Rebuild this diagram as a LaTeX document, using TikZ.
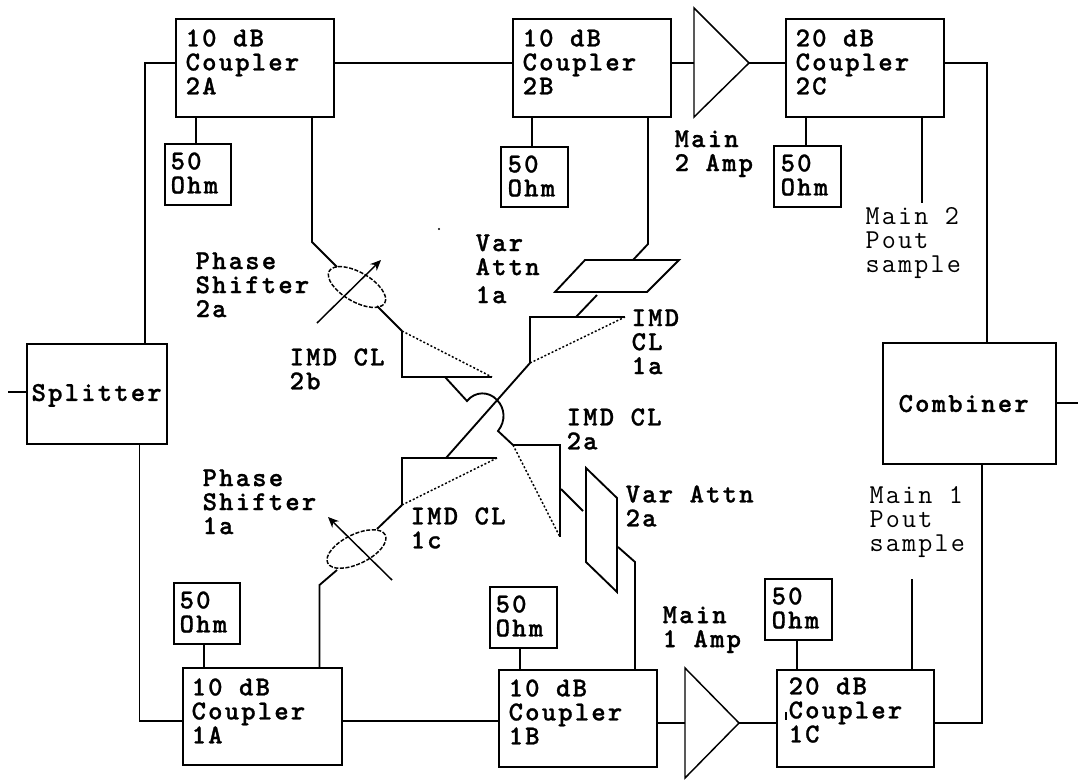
\documentclass[tikz,border=0pt]{standalone}
\usepackage{fontspec}
\usetikzlibrary{arrows.meta,calc,shapes.geometric}
\setmainfont{Latin Modern Mono}[LetterSpace=8]
\newfontfamily\heavyfont{lmmonolt10-bold.otf}[LetterSpace=8,FakeBold=1]
\tikzset{
  blk/.style 2 args={draw=black,line width=1.4pt,fill=white,rectangle,inner sep=0pt,outer sep=0pt,minimum width=#1*0.75pt,minimum height=#2*0.75pt},
  wire/.style={draw=black,line width=1.4pt,line join=miter},
  thin wire/.style={draw=black,line width=1.1pt},
  dots/.style={draw=black,line width=1.1pt,dash pattern=on 1.5pt off 1.5pt},
  lbl/.style={anchor=north west,inner sep=0pt,outer sep=0pt,align=left,xshift=-1pt,yshift=-0.3pt,font=\fontsize{20.5}{18}\selectfont\heavyfont},
  plain lbl/.style={anchor=north west,inner sep=0pt,outer sep=0pt,align=left,xshift=-1pt,yshift=-0.3pt,font=\fontsize{20.5}{18}\selectfont},
  shifter/.style={ellipse,draw=black,line width=1.1pt,dash pattern=on 3pt off 1.2pt,inner sep=0pt,outer sep=0pt,minimum width=48pt,minimum height=22pt}
}
\begin{document}
\begin{tikzpicture}[x=0.75pt,y=-0.75pt]
\useasboundingbox (0,0) rectangle (1078,783);
% boxes
\node[blk={158}{98}] (c2a) at (255,68) {};
\node[blk={158}{98}] (c2b) at (592,68) {};
\node[blk={158}{98}] (c2c) at (865,68) {};
\node[blk={159}{97}] (c1a) at (262.5,716.5) {};
\node[blk={158}{97}] (c1b) at (578,718.5) {};
\node[blk={157}{97}] (c1c) at (855.5,718.5) {};
\node[blk={66}{61}] (o2a) at (198,174.5) {};
\node[blk={67}{60}] (o2b) at (534.5,177) {};
\node[blk={67}{61}] (o2c) at (807.5,176.5) {};
\node[blk={66}{61}] (o1a) at (207,613.5) {};
\node[blk={67}{61}] (o1b) at (523.5,617.5) {};
\node[blk={67}{61}] (o1c) at (798.5,609.5) {};
\node[blk={140}{100}] (split) at (97,394) {};
\node[blk={173}{121}] (comb) at (969.5,403.5) {};
% labels in boxes
\node[lbl] (t2a) at (187,29) {10 dB\\Coupler\\2A};
\node[lbl] (t2b) at (524,29) {10 dB\\Coupler\\2B};
\node[lbl] (t2c) at (797,29) {20 dB\\Coupler\\2C};
\node[lbl] (t1a) at (193,678) {10 dB\\Coupler\\1A};
\node[lbl] (t1b) at (510,679) {10 dB\\Coupler\\1B};
\node[lbl] (t1c) at (790,677) {20 dB\\Coupler\\1C};
\node[lbl] (n2a) at (172,152) {50\\Ohm};
\node[lbl] (n2b) at (509,155) {50\\Ohm};
\node[lbl] (n2c) at (782,154) {50\\Ohm};
\node[lbl] (n1a) at (181,591) {50\\Ohm};
\node[lbl] (n1b) at (497,595) {50\\Ohm};
\node[lbl] (n1c) at (773,587) {50\\Ohm};
\node[lbl,anchor=base] (tsp) at (98,400.5) {Splitter};
\node[lbl,anchor=base] (tco) at (965,411.5) {Combiner};
% free labels
\node[lbl] (ma2) at (676,130) {Main\\2 Amp};
\node[lbl] (ma1) at (664,606) {Main\\1 Amp};
\node[plain lbl] (ps2) at (867,207) {Main 2\\Pout\\sample};
\node[plain lbl] (ps1) at (871,486) {Main 1\\Pout\\sample};
\node[lbl] (va1) at (477,234) {Var\\Attn\\[3pt]1a};
\node[lbl] (va2) at (627,485) {Var Attn\\2a};
\node[lbl] (im1a) at (633,309) {IMD\\CL\\1a};
\node[lbl] (im2a) at (568,408) {IMD CL\\2a};
\node[lbl] (im1c) at (412,507) {IMD CL\\1c};
\node[lbl] (im2b) at (291,348) {IMD CL\\2b};
\node[lbl] (ph2) at (197,252) {Phase\\Shifter\\2a};
\node[lbl] (ph1) at (204,469) {Phase\\Shifter\\1a};
% routing coordinates
\coordinate (row2) at (0,63);
\coordinate (row1) at (0,722);
\coordinate (s2a) at (196,0);
\coordinate (s2b) at (532,0);
\coordinate (s2c) at (806,0);
\coordinate (s1a) at (204,0);
\coordinate (s1b) at (520,0);
\coordinate (s1c) at (797,0);
% amplifiers
\coordinate (a2u) at (694,8); \coordinate (a2d) at (694,117); \coordinate (a2t) at (749,63);
\coordinate (a1u) at (685,668); \coordinate (a1d) at (685,778); \coordinate (a1t) at (739,723);
\draw[thin wire] (a2u) -- (a2t) -- (a2d) -- cycle;
\draw[thin wire] (a1u) -- (a1t) -- (a1d) -- cycle;
% top row
\coordinate (sp2) at (145,63);
\draw[wire] (split.north -| sp2) -- (sp2) -- (c2a.west |- row2);
\draw[wire] (c2a.east |- row2) -- (c2b.west |- row2);
\draw[wire] (c2b.east |- row2) -- (a2u |- row2);
\draw[wire] (a2t) -- (c2c.west |- a2t);
\coordinate (cb2) at (987,63);
\draw[wire] (c2c.east |- cb2) -- (cb2) -- (comb.north -| cb2);
% bottom row
\coordinate (sp1) at (139.5,721);
\draw[wire] (split.south -| sp1) -- (sp1) -- (c1a.west |- sp1);
\draw[wire] (c1a.east |- sp1) -- (c1b.west |- sp1);
\draw[wire] (c1b.east |- a1t) -- (a1u |- a1t);
\draw[wire] (a1t) -- (c1c.west |- a1t);
\coordinate (cb1) at (982,723);
\draw[wire] (c1c.east |- cb1) -- (cb1) -- (comb.south -| cb1);
% stubs
\draw[wire] (c2a.south -| s2a) -- (o2a.north -| s2a);
\draw[wire] (c2b.south -| s2b) -- (o2b.north -| s2b);
\draw[wire] (c2c.south -| s2c) -- (o2c.north -| s2c);
\draw[wire] (c1a.north -| s1a) -- (o1a.south -| s1a);
\draw[wire] (c1b.north -| s1b) -- (o1b.south -| s1b);
\draw[wire] (c1c.north -| s1c) -- (o1c.south -| s1c);
% splitter and combiner outer stubs, samples
\coordinate (inl) at (8,392);
\coordinate (outr) at (1078,403);
\draw[wire] (inl) -- (split.west |- inl);
\draw[wire] (comb.east |- outr) -- (outr);
\coordinate (sm2) at (922,203);
\coordinate (sm1) at (912,579);
\draw[wire] (c2c.south -| sm2) -- (sm2);
\draw[wire] (c1c.north -| sm1) -- (sm1);
% phase shifter 2a
\node[shifter,rotate=-30] (ps2a) at (357,287) {};
\coordinate (d2a1) at (312,242); \coordinate (d2a2) at (337,267);
\coordinate (d2a3) at (377,306);
\coordinate (t2bA) at (402,331); \coordinate (t2bB) at (402,377); \coordinate (t2bC) at (492,377);
\coordinate (ar2s) at (317,323); \coordinate (ar2e) at (381,260);
\draw[wire] (c2a.south -| d2a1) -- (d2a1) -- (d2a2);
\draw[wire] (d2a3) -- (t2bA);
\draw[thin wire,-{Stealth[length=8pt,width=7pt]}] (ar2s) -- (ar2e);
\draw[wire] (t2bA) -- (t2bB) -- (t2bC);
\draw[dots] (t2bA) -- (t2bC);
% phase shifter 1a
\node[shifter,rotate=26] (ps1a) at (356.5,549) {};
\coordinate (t1cA) at (402,505); \coordinate (t1cB) at (402,458); \coordinate (t1cC) at (497,458);
\coordinate (d1a1) at (377,529); \coordinate (d1a2) at (337,570); \coordinate (d1a3) at (319.5,585);
\coordinate (ar1s) at (392,580); \coordinate (ar1e) at (328,517);
\draw[wire] (t1cA) -- (d1a1);
\draw[wire] (d1a2) -- (d1a3) -- (c1a.north -| d1a3);
\draw[thin wire,-{Stealth[length=8pt,width=7pt]}] (ar1s) -- (ar1e);
\draw[wire] (t1cA) -- (t1cB) -- (t1cC);
\draw[dots] (t1cA) -- (t1cC);
% IMD CL 1a and Var Attn 1a
\coordinate (t1aA) at (530,363); \coordinate (t1aB) at (530,317); \coordinate (t1aC) at (625,317);
\coordinate (cr1) at (446,458);
\draw[wire] (t1aA) -- (t1aB) -- (t1aC);
\draw[dots] (t1aA) -- (t1aC);
\draw[wire] (t1aA) -- (cr1);
\coordinate (pa1) at (555,292); \coordinate (pa2) at (585,260); \coordinate (pa3) at (679,260); \coordinate (pa4) at (647,292);
\draw[wire] (pa1) -- (pa2) -- (pa3) -- (pa4) -- cycle;
\coordinate (st1) at (576,317); \coordinate (st2) at (597,295);
\draw[wire] (st1) -- (st2);
\coordinate (st3) at (633,260); \coordinate (st4) at (648,244);
\draw[wire] (st3) -- (st4) -- (c2b.south -| st4);
% crossover
\coordinate (x1) at (445,377); \coordinate (x2) at (467,401); \coordinate (x3) at (497,400); \coordinate (x4) at (498,431);
\coordinate (t2aA) at (513,445); \coordinate (t2aB) at (560,445); \coordinate (t2aC) at (560,537);
\draw[wire] (x1) -- (x2) .. controls (475,391) and (489,391) .. (x3) .. controls (505,408) and (506,421) .. (x4) -- (t2aA);
\draw[wire] (t2aA) -- (t2aB) -- (t2aC);
\draw[dots] (t2aA) -- (t2aC);
% Var Attn 2a
\coordinate (pb1) at (586,468); \coordinate (pb2) at (617,498); \coordinate (pb3) at (617,592); \coordinate (pb4) at (586,562);
\draw[wire] (pb1) -- (pb2) -- (pb3) -- (pb4) -- cycle;
\coordinate (st5) at (561,489); \coordinate (st6) at (583,511);
\draw[wire] (st5) -- (st6);
\coordinate (st7) at (618,547); \coordinate (st8) at (635,562);
\draw[wire] (st7) -- (st8) -- (c1b.north -| st8);
% stray marks in the source
\coordinate (m1) at (786,712); \coordinate (m2) at (786,720);
\draw[thin wire] (m1) -- (m2);
\coordinate (m3) at (439,229);
\fill[black] (m3) circle (0.8pt);
\end{tikzpicture}
\end{document}
